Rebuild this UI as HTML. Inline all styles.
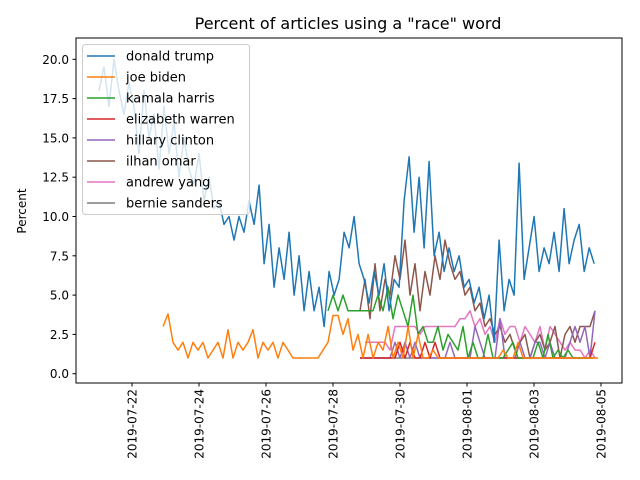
<!DOCTYPE html>
<html><head><meta charset="utf-8"><style>
body{margin:0;background:#fff;}
svg{display:block;font-family:"DejaVu Sans","Liberation Sans",sans-serif;}
</style></head><body>
<svg id="chart" width="640" height="480">
<rect x="0" y="0" width="640" height="480" fill="#fff"/>
<text x="348" y="29" font-size="16" text-anchor="middle">Percent of articles using a "race" word</text>
<text transform="translate(26,211) rotate(-90)" font-size="12" text-anchor="middle">Percent</text>
<g id="plot"></g>
<rect x="76" y="38" width="546" height="345" fill="none" stroke="#000" stroke-width="1"/>
</svg>
<script>
const tickDays=[0,2,4,6,8,10,12,14];
const tickLabels=["2019-07-22","2019-07-24","2019-07-26","2019-07-28","2019-07-30","2019-08-01","2019-08-03","2019-08-05"];
const yTicks=[0,2.5,5,7.5,10,12.5,15,17.5,20];
const seriesNames=["donald trump","joe biden","kamala harris","elizabeth warren","hillary clinton","ilhan omar","andrew yang","bernie sanders"];
const colors=["#1f77b4","#ff7f0e","#2ca02c","#d62728","#9467bd","#8c564b","#e377c2","#7f7f7f"];
const stepDay=0.1493;
const startDays=[-0.985,0.925,5.85,6.805,6.805,6.805,6.955,6.805];
const trump=[18,19.5,17,20,18,16.5,18.5,17,14,18,15,16.5,13,17,14,16,12.5,15,13,12,14,11,12.5,10.5,11,9.5,10,8.5,10,9,11,9.5,12,7,9.5,5.5,8,6,9,5,7.5,4,6.5,4,5.5,3,6.5,5,6,9,8,10,7,6,4.5,6.5,5,7,4,6,5.5,11,13.8,9,12.5,8,13.5,7.5,9,6.5,8,6.5,7.5,5.5,6,4.5,5.5,3.5,5,2,8.5,4,6,5,13.4,6,8,10,6.5,8,7,9,6.5,10.5,7,8.5,9.5,6.5,8,7];
const biden=[3,3.8,2,1.5,2,1,2,1.5,2,1,1.5,2,1,2.8,1,2,1.5,2,2.8,1,2,1.5,2,1,2,1.5,1,1,1,1,1,1,1.5,2,3.7,3.7,2.5,3.5,1.5,2.5,1,2.5,1,2,1.5,3,1,2,1,3,1,2.5,1,1,1.5,1,1,1,1,1,1,1,1,1,1,1,1,1,1.5,1,1,2,1,1,1,1,1,1,1,1,1,1,1,1,1,1,1,1];
const harris=[4,5,4,5,4,4,4,4,4,4,5,4,5.5,3.5,5,4,3,5,2.5,3,2,2,3,1.5,2.5,2,1.5,3,1,2,1,1,2.5,1,1,1,1.5,2,1,1,1,1,2,1,2.5,1,1.5,1,1.5,1,1,1,1,1];
const warren=[1,1,1,1,1,1,1,1,2,1,2,1,1,2,1,2,1,1,1,1,1,1,1,1,1,1,1,1,1,1,1,1,1,1,1,1,1,1,1,1,1,1,1,1,1,1,1,2];
const clinton=[1,1,1,1,1,1,1,2,1,2,1,2,1,1,1,1,1,1,2,1,1,1,1,3,2,1,1,1,3.5,1,1,1,2,1,1,2,2,1,2,1,1,1,2,3,2,3,1,4];
const omar=[4,6,3.5,7,4,6,5,7.5,6,8.5,5,7,4,6.5,5,7.5,6,8.5,7,6,6.5,5,5.5,4,4.5,3,3.5,2.5,3,2,2.5,1.5,2,2.5,1,2,2.5,1.5,2,3,1,2.5,3,2,3,3,3,4];
const yang=[2,2,2,2,2,1.5,3,3,3,3,3,2.5,3,3,3,3,3,3,3,3.5,3.5,4,3,3.5,2.5,3,2,3.5,2.5,3,3,2,3,2.5,2,3,1.5,3,2.5,2,1.5,2,1.5,1.5,1,1.5,1];
const sanders=[1,1,1,1,1,1,1,1,1,1,1,1,1,1,1,1,1,1,1,1,1,1,1,1,1,1,1,1,1,1,1,1,1,1,1,1,1,1,1,1,1,1,1,1,1,1,1,1];
const allSeries=[trump,biden,harris,warren,clinton,omar,yang,sanders];

const NS="http://www.w3.org/2000/svg";
function xs(d){return 132+33.5*d;}
function ys(v){return 373.7-v*15.72;}
const plot=document.getElementById('plot');
function mk(tag,attrs,parent){const e=document.createElementNS(NS,tag);for(const k in attrs)e.setAttribute(k,attrs[k]);(parent||plot).appendChild(e);return e;}

yTicks.forEach(v=>{
  const y=ys(v);
  const t=mk('line',{x1:72.5,x2:76,y1:y,y2:y,stroke:'#000'});
  
  
  const l=mk('text',{x:69,y:y+4.5,'font-size':12,'text-anchor':'end'});
  l.textContent=v.toFixed(1);
  
  
});
tickDays.forEach((d,i)=>{
  const x=xs(d);
  const t=mk('line',{x1:x,x2:x,y1:383,y2:386.5,stroke:'#000'});
  
  
  const l=mk('text',{transform:`translate(${x+4.5},389) rotate(-90)`,'font-size':12,'text-anchor':'end'});
  l.textContent=tickLabels[i];
  
  
});
const order=[7,6,5,4,3,2,1,0];
order.forEach(si=>{
  const vals=allSeries[si];
  const pts=vals.map((v,i)=>xs(startDays[si]+i*stepDay).toFixed(1)+','+ys(v).toFixed(1)).join(' ');
  const p=mk('polyline',{points:pts,fill:'none',stroke:colors[si],'stroke-width':1.5,'stroke-linejoin':'round'});
  
  
});
// legend
const lg=document.createElementNS(NS,'g');


plot.appendChild(lg);
mk('rect',{x:82.5,y:44.5,width:167,height:170,rx:3,fill:'#fff','fill-opacity':0.8,stroke:'#ccc'},lg);
seriesNames.forEach((n,i)=>{
  const y=56+i*21;
  const ln=mk('line',{x1:87,x2:115,y1:y,y2:y,stroke:colors[i],'stroke-width':1.5},lg);
  
  
  const t=mk('text',{x:126,y:y+4.5,'font-size':13},lg);
  t.textContent=n;
  
  
});
</script>
</body></html>
